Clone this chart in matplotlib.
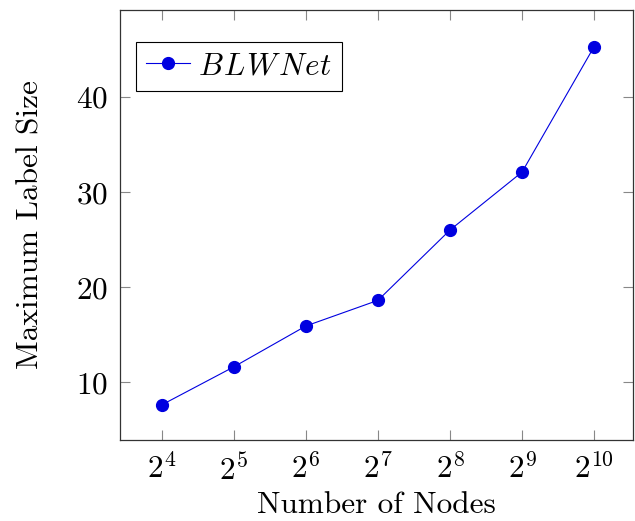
import numpy as np
import matplotlib
matplotlib.use("Agg")
import matplotlib.pyplot as plt

plt.rcParams["font.family"] = ["cmr10"]
plt.rcParams["mathtext.fontset"] = "cm"
plt.rcParams["axes.unicode_minus"] = False
plt.rcParams["axes.formatter.use_mathtext"] = True

# Number of nodes (powers of two) and the maximum label size observed
nodes = [16, 32, 64, 128, 256, 512, 1024]
max_label_size = [7.6, 11.6, 15.9, 18.6, 26.0, 32.1, 45.3]
series_name = r"$B\hspace{0.07}L\hspace{0.07}W\hspace{0.07}N\hspace{0.04}e\hspace{0.02}t$"
y_ticks = [10, 20, 30, 40]

fig = plt.figure(figsize=(6.35, 5.21), dpi=100)
ax = fig.add_axes([120 / 635, 81 / 521, 513 / 635, 430 / 521])

line_color = "#0000e0"
ax.plot(nodes, max_label_size, color=line_color, marker="o", markersize=8.5,
        linewidth=0.8, label=series_name)

ax.set_xscale("log", base=2)
ax.set_xlim(2 ** 3.42, 2 ** 10.54)
ax.set_ylim(3.9, 49.16)
ax.set_xticks(nodes)
ax.set_xticklabels([r"$2^{%d}$" % int(np.log2(n)) for n in nodes])
ax.minorticks_off()
ax.set_yticks(y_ticks)

ax.tick_params(direction="in", length=7, width=0.8, color="#888888",
               top=True, right=True, labelsize=22.5)
ax.tick_params(axis="x", pad=10)
ax.tick_params(axis="y", pad=9)
for s in ax.spines.values():
    s.set_color("#333333")
    s.set_linewidth(0.9)

ax.set_xlabel("Number of Nodes", fontsize=22.5, labelpad=3)
ax.set_ylabel("Maximum Label Size", fontsize=22.5, labelpad=22)

leg = ax.legend(loc="upper left", fontsize=22.5, frameon=True, fancybox=False,
                edgecolor="black", framealpha=1, handlelength=1.4,
                handletextpad=0.25, borderpad=0.33, borderaxespad=0,
                bbox_to_anchor=(16 / 513, 1 - 32 / 430))
leg.get_frame().set_linewidth(0.8)

fig.savefig("out.png", dpi=100)
